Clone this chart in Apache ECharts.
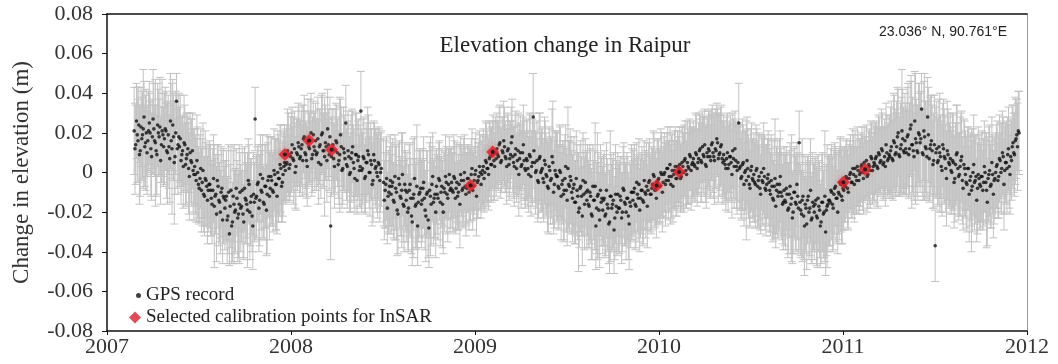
<!DOCTYPE html>
<html>
<head>
<meta charset="utf-8">
<script src="https://cdn.jsdelivr.net/npm/echarts@6/dist/echarts.min.js"></script>
<style>
html,body{margin:0;padding:0;background:#fff;}
#chart{width:1058px;height:364px;}
</style>
</head>
<body>
<div id="chart"></div>
<script>
// ---- DATA ----
// GPS record, two interleaved samplings every 3 days (set B offset by 1.5 days), values in mm
const startDateUTC = Date.UTC(2007, 1, 24);
const stepDays = 3;
const gpsMmPart1 = [
  21,14,19,24,11,17,22,13,20,16,
  25,12,18,22,15,9,20,23,14,19,
  17,21,10,13,26,12,18,8,36,14,
  13,6,11,15,4,9,2,10,5,1,
  3,-4,0,-8,2,-5,-11,-3,-7,-9,
  -6,-13,-9,-17,-11,-4,-14,-20,-8,-12,
  -18,-12,-22,-31,-9,-25,-16,-19,-13,-21,
  -10,-17,-21,-8,-14,-19,-6,-15,-22,-11,
  27,-12,-5,-14,-9,-3,-16,-7,-11,-2,
  -8,-4,-10,-1,-6,0,-3,2,-5,3,
  1,5,9,4,10,7,12,3,9,13,
  8,14,17,10,6,15,12,20,9,13
];
const gpsMmPart2 = [
  16,10,5,14,19,11,8,13,22,9,
  -27,12,7,11,15,4,9,13,2,10,
  25,3,8,0,10,5,-3,9,6,1,
  31,2,7,-2,5,9,0,4,-4,6,
  3,-2,4,0,null,-5,-9,-3,-12,-7,
  -11,-5,-15,-8,-19,-3,-12,-9,-16,-6,
  -14,-20,-9,-13,-25,-11,-17,-7,-15,-10,
  -16,-8,-13,-22,-10,-28,-12,-6,-15,-11,
  -7,-13,-4,-10,-16,-8,-2,-11,-6,-9,
  -5,-10,-3,-8,-12,-6,-1,-9,-4,-7,
  -8,-3,-6,-1,-9,-4,1,-5,-2,0,
  -1,3,0,5,2,7,4,9,6,10
];
const gpsMmPart3 = [
  12,8,15,6,10,13,7,11,4,9,
  18,5,9,2,11,7,3,10,6,1,
  6,-1,8,3,28,5,1,-4,7,0,
  2,-5,4,-2,-8,1,-3,5,-6,-1,
  -2,-8,0,-6,-11,-3,-9,2,-7,-4,
  -13,-6,-15,-9,-20,-8,-12,-4,-16,-10,
  -9,-17,-12,-22,-14,-7,-18,-11,-24,-15,
  -19,-13,-21,-16,-26,-12,-18,-14,-23,-17,
  -11,-18,-14,-20,-9,-16,-13,-22,-15,-10,
  -14,-8,-17,-11,-6,-13,-9,-15,-10,-7,
  -9,-4,-11,-6,-2,-8,-5,-3,-7,-1,
  -5,0,-4,2,-2,-6,1,-1,3,-3
];
const gpsMmPart4 = [
  0,4,-2,3,6,1,5,2,8,4,
  7,3,9,5,11,6,13,8,4,10,
  12,8,14,10,6,11,15,9,13,7,
  9,4,7,2,8,5,11,3,6,1,
  25,3,-2,5,0,-4,2,-6,1,-3,
  -1,-6,2,-4,-8,0,-5,-2,-9,-3,
  -5,-11,-7,-14,-3,-9,-12,-6,-10,-16,
  -9,-15,-11,-18,-7,-13,-20,-10,-16,-12,
  15,-19,-14,-22,-16,-26,-12,-18,-24,-15,
  -20,-14,-23,-17,-27,-15,-21,-12,-19,-16,
  -14,-9,-16,-11,-7,-13,-10,-5,-12,-8,
  -6,-2,-8,-3,0,-5,-1,2,-4,1
];
const gpsMmPart5 = [
  -1,3,0,5,2,-2,4,1,7,3,
  4,8,2,9,6,11,5,3,10,7,
  8,13,6,15,10,18,9,12,21,11,
  16,10,19,12,24,14,8,17,11,20,
  15,32,9,18,12,28,7,14,11,6,
  -37,12,6,10,3,14,8,2,11,5,
  7,0,5,-3,9,2,-1,6,-4,4,
  -1,-6,2,-4,-9,0,-5,-2,-8,-3,
  -7,-2,-5,0,-9,-3,1,-6,-1,-4,
  0,4,-2,6,2,8,1,5,9,3,
  8,13,10,16,19,21
];
const gpsMmBPart1 = [
  12,26,16,9,23,19,28,15,10,21,
  20,8,27,16,11,24,18,6,21,13,
  22,11,19,7,16,24,5,20,12,18,
  17,9,3,14,7,12,-2,6,11,-1,
  -1,6,-6,-3,-9,1,-12,-4,-14,-6,
  -9,-16,-3,-12,-21,-7,-15,-10,-24,-13,
  -14,-24,-10,-17,-27,-12,-20,-8,-23,-16,
  -18,-9,-25,-13,-16,-4,-20,-12,-27,-15,
  -13,-6,-18,-1,-10,-15,-7,-19,-4,-12,
  -2,-9,1,-6,-12,-3,4,-7,-1,5,
  4,11,2,8,14,6,0,10,15,7,
  12,6,18,9,3,13,16,7,19,11
];
const gpsMmBPart2 = [
  9,17,13,4,20,11,15,6,14,18,
  8,14,3,16,10,6,19,1,12,7,
  4,11,-1,7,13,2,9,-4,8,3,
  1,8,-3,5,11,0,6,-6,9,2,
  0,5,-4,2,null,-14,-6,-18,-10,-4,
  -7,-14,-2,-10,-21,-6,-13,-1,-17,-9,
  -10,-18,-6,-22,-13,-3,-16,-27,-11,-8,
  -14,-5,-19,-11,-24,-9,-16,-2,-13,-20,
  -11,-3,-15,-7,-20,-10,-5,-13,-1,-8,
  -9,-2,-13,-5,-10,-16,-4,-8,0,-11,
  -3,-10,-6,2,-7,-1,-12,-4,3,-6,
  1,-3,6,2,-1,8,4,11,3,7
];
const gpsMmBPart3 = [
  9,14,5,11,16,8,3,12,7,15,
  8,3,12,6,-1,10,4,14,2,7,
  2,9,-2,5,11,0,6,-5,8,1,
  -3,6,-1,-7,3,-4,8,-10,1,-2,
  -7,1,-12,-4,-9,3,-14,-6,-2,-10,
  -8,-15,-3,-12,-18,-7,-22,-11,-5,-14,
  -16,-10,-21,-7,-14,-27,-12,-19,-9,-13,
  -14,-22,-9,-18,-25,-12,-16,-29,-11,-20,
  -18,-12,-23,-8,-15,-20,-13,-26,-17,-10,
  -10,-16,-5,-13,-19,-9,-14,-4,-11,-17,
  -5,-11,-8,-1,-9,-13,-4,-7,0,-10,
  -1,-6,2,-4,4,-2,-7,1,-3,3
];
const gpsMmBPart4 = [
  2,-3,5,0,7,-1,3,9,1,5,
  4,10,2,7,12,5,9,14,3,8,
  11,6,15,8,12,17,7,10,14,5,
  6,2,10,4,8,-1,7,12,3,5,
  2,-3,4,-6,1,6,-2,-8,3,-4,
  -5,1,-7,-2,-11,-4,2,-8,-6,-1,
  -9,-4,-13,-7,-17,-6,-10,-2,-12,-15,
  -14,-8,-19,-11,-16,-23,-10,-15,-6,-18,
  -15,-21,-12,-27,-18,-14,-20,-9,-23,-17,
  -16,-22,-13,-19,-25,-15,-20,-30,-17,-14,
  -15,-10,-18,-8,-13,-20,-11,-6,-14,-9,
  -7,-3,-10,-1,-5,2,-6,-2,3,-4
];
const gpsMmBPart5 = [
  0,4,-3,2,6,-1,3,8,1,5,
  7,3,10,5,12,4,8,14,6,9,
  11,7,16,9,13,20,8,14,17,10,
  12,18,9,22,14,11,26,15,10,19,
  17,10,21,13,8,19,12,16,4,14,
  10,5,13,8,1,12,7,-3,9,4,
  1,6,-5,4,10,-2,3,8,-8,2,
  -5,2,-11,-2,-7,4,-4,-14,-1,-6,
  -2,-9,3,-5,-15,-1,-7,5,-11,-3,
  3,-4,7,0,10,-6,5,2,12,-1,
  6,15,9,17,13,20
];
// error-bar half widths (mm), one per GPS sample
const errMmPart1 = [
  22,20,24,19,23,21,30,20,22,18,
  21,24,19,23,32,20,22,25,19,21,
  23,20,26,21,24,33,22,19,14,25,
  20,22,18,24,21,19,23,20,22,21,
  19,21,23,18,20,22,19,24,20,21,
  22,19,21,31,20,18,23,21,19,24,
  21,23,19,16,22,20,30,21,19,22,
  20,18,22,21,19,29,20,22,18,21,
  16,21,19,23,20,22,18,21,30,20,
  19,22,20,18,23,21,19,22,20,18,
  17,19,21,18,20,16,19,22,18,20,
  18,20,17,21,19,22,18,20,19,17
];
const errMmPart2 = [
  19,17,21,18,20,19,30,17,20,18,
  17,20,18,21,19,17,29,20,18,19,
  19,21,18,20,22,19,17,21,20,18,
  20,18,21,19,17,20,22,18,21,19,
  19,21,18,20,0,22,19,21,18,20,
  20,22,19,21,23,18,20,29,19,21,
  21,19,23,20,22,18,21,31,20,22,
  22,20,19,23,21,20,30,19,21,22,
  19,21,20,18,22,19,21,20,18,21,
  18,20,19,21,17,20,19,18,21,20,
  18,17,19,18,20,17,19,18,17,19,
  17,19,18,20,17,19,18,17,20,18
];
const errMmPart3 = [
  18,17,19,16,18,20,17,19,18,17,
  19,18,20,17,19,18,21,18,20,19,
  20,19,21,18,22,20,19,21,23,20,
  21,20,22,19,23,21,20,31,22,21,
  22,21,23,20,24,22,21,31,23,22,
  22,24,21,23,30,22,20,24,23,21,
  23,21,24,22,20,32,23,21,24,22,
  22,24,21,23,20,33,22,24,21,23,
  21,23,22,20,24,21,23,22,20,24,
  20,22,21,19,23,20,22,21,19,22,
  19,21,20,18,22,19,21,20,18,21,
  18,20,19,21,18,20,19,17,20,19
];
const errMmPart4 = [
  18,19,17,20,18,19,21,18,17,19,
  19,18,20,17,19,21,18,20,19,18,
  19,21,18,20,22,19,17,21,20,19,
  20,19,21,22,18,20,19,21,20,22,
  20,21,22,19,21,30,20,22,21,20,
  21,22,20,23,21,19,22,21,23,20,
  22,21,23,20,30,22,21,23,22,20,
  22,24,21,23,22,32,21,23,24,22,
  16,23,31,22,24,23,21,24,22,25,
  24,22,25,23,21,24,22,33,23,24,
  23,21,24,22,20,23,21,22,24,21,
  19,18,20,17,19,18,20,19,17,18
];
const errMmPart5 = [
  18,17,19,18,16,18,17,19,18,17,
  19,18,20,19,17,19,18,20,19,18,
  21,23,20,24,22,25,21,23,31,22,
  24,22,26,23,25,24,22,33,23,25,
  25,18,23,32,24,20,22,25,23,24,
  18,24,22,30,23,21,24,22,25,23,
  23,21,24,22,25,23,21,24,22,23,
  22,24,21,23,31,22,24,21,23,22,
  21,23,22,20,29,21,23,22,20,22,
  20,22,21,19,23,20,22,21,19,21,
  19,21,20,22,18,20
];
const errMmBPart1 = [
  23,19,21,25,20,22,18,24,21,20,
  20,22,25,18,23,21,19,22,26,20,
  21,24,20,22,19,23,31,21,20,22,
  22,19,21,20,23,18,22,21,19,23,
  20,23,19,22,21,24,20,19,22,20,
  23,20,22,19,24,21,20,23,22,19,
  20,22,24,21,19,23,21,20,22,30,
  22,21,19,23,20,21,24,19,22,20,
  21,19,22,20,24,18,21,23,19,22,
  20,18,21,23,19,22,20,18,21,19,
  18,21,17,20,19,22,18,17,20,19,
  19,18,21,17,20,18,21,19,17,20
];
const errMmBPart2 = [
  18,21,19,17,20,18,19,21,18,20,
  20,18,21,19,17,22,18,19,21,17,
  18,20,19,22,18,20,21,17,19,21,
  21,19,17,20,22,18,19,21,17,20,
  20,18,21,19,0,20,22,18,21,23,
  22,19,21,24,20,22,19,21,23,20,
  20,22,21,19,30,21,23,20,22,19,
  21,23,20,22,19,24,21,22,20,23,
  20,18,22,19,21,20,18,22,19,20,
  19,21,18,20,19,22,18,20,19,21,
  17,19,18,20,17,18,20,19,18,17,
  18,17,20,19,18,17,19,18,17,19
];
const errMmBPart3 = [
  17,19,18,17,20,18,19,17,19,18,
  18,20,19,18,21,19,17,20,18,20,
  19,21,20,22,19,21,20,18,22,21,
  20,22,21,23,20,22,24,21,20,23,
  21,23,22,20,25,21,23,22,24,21,
  23,21,24,22,20,23,25,21,22,24,
  22,24,23,21,25,22,32,24,23,21,
  23,21,24,22,26,21,23,22,25,22,
  22,20,23,21,22,24,21,23,21,22,
  21,23,20,22,21,19,23,20,22,21,
  20,19,21,22,19,20,21,19,22,20,
  19,21,18,20,19,21,18,20,19,18
];
const errMmBPart4 = [
  19,17,18,20,19,17,19,18,20,18,
  18,20,19,18,17,20,19,18,21,19,
  20,18,19,21,20,18,22,19,20,21,
  19,21,20,18,21,22,20,19,21,20,
  21,20,23,21,20,22,21,19,22,21,
  20,23,21,22,20,22,23,21,20,22,
  21,23,22,24,21,22,20,23,22,24,
  23,21,24,22,25,23,22,24,21,23,
  24,22,21,25,23,22,24,26,23,22,
  23,25,22,24,21,25,23,22,31,23,
  22,24,21,23,22,21,23,24,22,20,
  18,20,19,17,18,20,19,18,20,17
];
const errMmBPart5 = [
  17,19,18,16,18,17,19,18,17,19,
  18,20,19,17,20,18,19,21,18,19,
  22,20,24,21,23,22,20,24,25,21,
  23,25,22,24,32,23,25,22,24,26,
  24,22,25,23,21,24,26,23,22,25,
  23,22,24,21,23,25,22,24,23,21,
  22,24,23,21,24,22,25,23,21,24,
  23,21,24,22,23,25,22,21,24,23,
  22,20,23,21,22,24,21,23,22,20,
  21,19,22,20,21,23,20,22,21,20,
  20,19,21,20,22,21
];
// Selected calibration points for InSAR (decimal year, metres)
const calibYear  = [2007.967, 2008.098, 2008.221, 2008.976, 2009.096, 2009.987, 2010.110, 2011.002, 2011.120];
const calibValue = [0.0091, 0.0162, 0.0115, -0.0066, 0.0103, -0.0066, 0.0002, -0.0049, 0.0015];
// Axis ticks
const xTicks = [2007, 2008, 2009, 2010, 2011, 2012];
const yTicks = [-0.08, -0.06, -0.04, -0.02, 0, 0.02, 0.04, 0.06, 0.08];

// ---- BUILD ----
const gpsA = [].concat(gpsMmPart1, gpsMmPart2, gpsMmPart3, gpsMmPart4, gpsMmPart5);
const errA = [].concat(errMmPart1, errMmPart2, errMmPart3, errMmPart4, errMmPart5);
const gpsB = [].concat(gpsMmBPart1, gpsMmBPart2, gpsMmBPart3, gpsMmBPart4, gpsMmBPart5);
const errB = [].concat(errMmBPart1, errMmBPart2, errMmBPart3, errMmBPart4, errMmBPart5);
const yearStart = Date.UTC(2007, 0, 1);
function toYear(dayOffset) {
  const t = startDateUTC + dayOffset * 86400000;
  return 2007 + (t - yearStart) / (365.25 * 86400000);
}
const gpsData = [], errData = [];
function addSet(vals, errs, offsetDays) {
  vals.forEach((v, i) => {
    if (v === null) return;
    const x = toYear(i * stepDays + offsetDays), y = v / 1000, e = errs[i] / 1000;
    gpsData.push([x, y]);
    errData.push([x, y - e, y + e]);
  });
}
addSet(gpsA, errA, 0);
addSet(gpsB, errB, 1.5);
const calibData = calibYear.map((x, i) => [x, calibValue[i]]);

const serif = 'Liberation Serif';
const chart = echarts.init(document.getElementById('chart'), null, {renderer: 'canvas'});
chart.setOption({
  animation: false,
  backgroundColor: '#fff',
  title: [
    {text: 'Elevation change in Raipur', left: 560, top: 29, textAlign: 'center',
     textStyle: {fontFamily: serif, fontSize: 23, fontWeight: 'normal', color: '#222'}},
    {text: '23.036° N, 90.761°E', right: 46, top: 20,
     textStyle: {fontFamily: 'Liberation Sans', fontSize: 14, fontWeight: 'normal', color: '#222'}}
  ],
  legend: [
    {data: [{name: 'GPS record', icon: 'circle'}], orient: 'vertical', left: 131, top: 281,
     itemWidth: 5, itemHeight: 5,
     textStyle: {fontFamily: serif, fontSize: 19, color: '#222'}},
    {data: [{name: 'Selected calibration points for InSAR', icon: 'diamond'}], orient: 'vertical', left: 124, top: 303,
     itemWidth: 12, itemHeight: 12,
     textStyle: {fontFamily: serif, fontSize: 19, color: '#222'}}
  ],
  grid: {left: 107, right: 31, top: 14, bottom: 33, containLabel: false},
  xAxis: [
    {type: 'value', min: xTicks[0], max: xTicks[xTicks.length - 1], interval: 1,
     axisLine: {onZero: false, lineStyle: {color: '#111', width: 1.5}},
     axisTick: {show: true, length: 4, lineStyle: {color: '#111'}},
     axisLabel: {fontFamily: serif, fontSize: 22, color: '#333', margin: 5, formatter: v => String(v)},
     splitLine: {show: false}},
    {type: 'value', position: 'top', min: xTicks[0], max: xTicks[xTicks.length - 1],
     axisLine: {show: true, onZero: false, lineStyle: {color: '#111', width: 1.5}},
     axisTick: {show: false}, axisLabel: {show: false}, splitLine: {show: false}}
  ],
  yAxis: [
    {type: 'value', min: yTicks[0], max: yTicks[yTicks.length - 1], interval: 0.02,
     name: 'Change in elevation (m)', nameLocation: 'middle', nameGap: 74,
     nameTextStyle: {fontFamily: serif, fontSize: 23, color: '#333'},
     axisLine: {show: true, onZero: false, lineStyle: {color: '#111', width: 1.5}},
     axisTick: {show: true, length: 5, lineStyle: {color: '#111'}},
     axisLabel: {fontFamily: serif, fontSize: 22, color: '#333', margin: 14,
       formatter: v => Math.abs(v) < 1e-9 ? '0' : v.toFixed(2)},
     splitLine: {show: false}},
    {type: 'value', position: 'right', min: yTicks[0], max: yTicks[yTicks.length - 1],
     axisLine: {show: true, onZero: false, lineStyle: {color: '#999', width: 1}},
     axisTick: {show: false}, axisLabel: {show: false}, splitLine: {show: false}}
  ],
  series: [
    {type: 'custom', name: 'errors', z: 1, silent: true,
     data: errData,
     encode: {x: 0, y: [1, 2]},
     renderItem: function (params, api) {
       const x = api.value(0);
       const lo = api.coord([x, api.value(1)]);
       const hi = api.coord([x, api.value(2)]);
       const cap = 4;
       const style = {stroke: '#c2c2c2', lineWidth: 1};
       return {type: 'group', children: [
         {type: 'line', shape: {x1: lo[0], y1: lo[1], x2: hi[0], y2: hi[1]}, style},
         {type: 'line', shape: {x1: lo[0] - cap, y1: lo[1], x2: lo[0] + cap, y2: lo[1]}, style},
         {type: 'line', shape: {x1: hi[0] - cap, y1: hi[1], x2: hi[0] + cap, y2: hi[1]}, style}
       ]};
     }},
    {type: 'scatter', name: 'GPS record', z: 2, data: gpsData, symbol: 'circle', symbolSize: 3.6,
     itemStyle: {color: '#111'}},
    {type: 'scatter', name: 'Selected calibration points for InSAR', z: 3, data: calibData,
     symbol: 'diamond', symbolSize: 13,
     itemStyle: {color: '#d81e2a', shadowBlur: 6, shadowColor: 'rgba(235,80,80,0.8)'}},
    {type: 'scatter', name: 'calibCore', z: 4, data: calibData, symbol: 'circle', symbolSize: 4,
     itemStyle: {color: '#111'}, silent: true}
  ]
});
</script>
</body>
</html>
